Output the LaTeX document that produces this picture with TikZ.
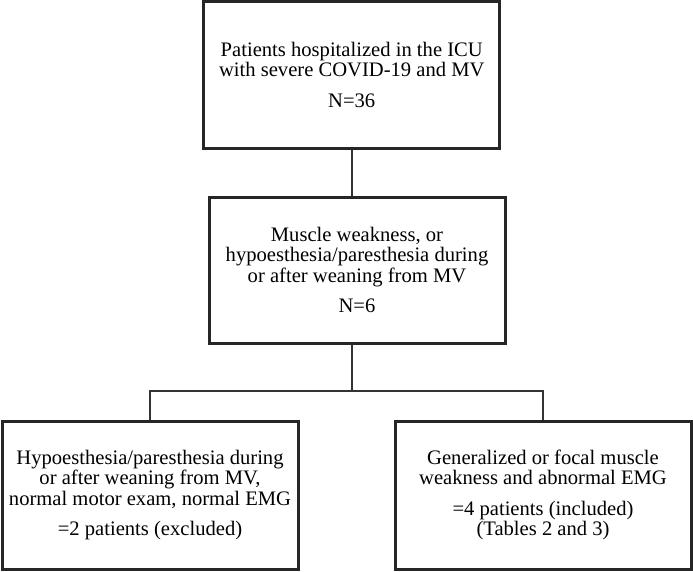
\documentclass[tikz,border=0pt]{standalone}
\usepackage{fontspec}
\setmainfont{Liberation Serif}
\begin{document}
\begin{tikzpicture}[x=1pt,y=-1pt,
        box/.style={draw=black!85, line width=3pt, align=center, inner sep=1pt,
            minimum width=296pt, minimum height=147pt,
            font=\fontsize{20.6}{20.3}\selectfont},
        link/.style={draw=black!80, line width=1.2pt}]
        \useasboundingbox (0,0) rectangle (693,571);

        \node[box, minimum height=146.5pt] (icu) at (351.75,74.75) {Patients hospitalized in the ICU\\with severe COVID-19 and MV\\[10pt]N=36};
        \node[box, minimum height=146pt] (weak) at (357,270) {Muscle weakness, or\\hypoesthesia/paresthesia during\\or after weaning from MV\\[10pt]N=6};
        \node[box, minimum height=148pt] (excl) at (150,495) {Hypoesthesia/paresthesia during\\or after weaning from MV,\\normal motor exam, normal EMG\\[10pt]=2 patients (excluded)};
        \node[box, minimum height=148pt] (incl) at (543,495) {Generalized or focal muscle\\weakness and abnormal EMG\\[10pt]=4 patients (included)\\(Tables 2 and 3)};

        \coordinate (split) at (352,391);
        \draw[link] (icu.south -| split) -- (weak.north -| split);
        \draw[link] (weak.south -| split) -- (split);
        \draw[link] (excl.north) |- (split) -| (incl.north);
    \end{tikzpicture}
\end{document}
